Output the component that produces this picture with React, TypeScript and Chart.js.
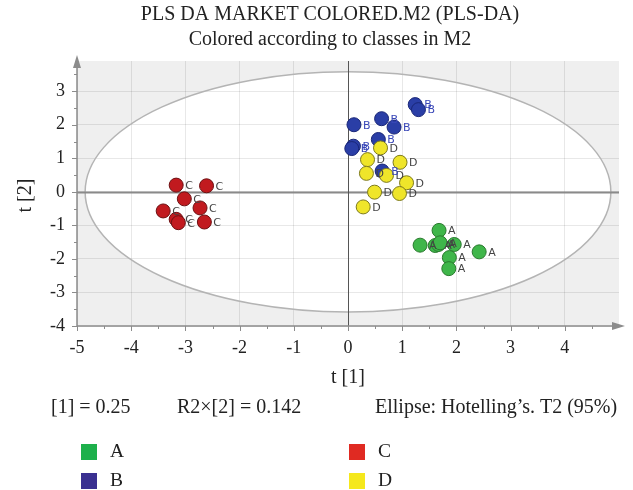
import React, { useEffect, useRef } from "react";
import { Chart, registerables } from "chart.js";

Chart.register(...registerables);

// t[1], t[2] scores per class
const classA_t1 = [1.68, 1.33, 1.61, 1.67, 1.70, 1.96, 2.42, 1.87, 1.86];
const classA_t2 = [-1.15, -1.59, -1.60, -1.57, -1.52, -1.57, -1.79, -1.96, -2.29];
const classB_t1 = [1.24, 1.30, 0.62, 0.11, 0.85, 0.56, 0.10, 0.07, 0.63];
const classB_t2 = [2.60, 2.45, 2.18, 2.00, 1.93, 1.56, 1.36, 1.29, 0.62];
const classC_t1 = [-3.17, -2.61, -3.02, -2.73, -3.41, -3.17, -3.13, -2.65];
const classC_t2 = [0.20, 0.18, -0.21, -0.48, -0.57, -0.82, -0.92, -0.90];
const classD_t1 = [0.60, 0.36, 0.96, 0.34, 0.71, 1.08, 0.49, 0.95, 0.28];
const classD_t2 = [1.31, 0.96, 0.88, 0.55, 0.49, 0.27, -0.01, -0.05, -0.45];

const classNames = ["A", "B", "C", "D"];
const xTicks = [-5, -4, -3, -2, -1, 0, 1, 2, 3, 4];
const yTicks = [-4, -3, -2, -1, 0, 1, 2, 3];
const ellipseA = 4.85;
const ellipseB = 3.58;

const titleLines = ["PLS DA MARKET COLORED.M2 (PLS-DA)", "Colored according to classes in M2"];
const statsTexts = ["[1] = 0.25", "R2\u00d7[2] = 0.142", "Ellipse: Hotelling\u2019s. T2 (95%)"];

const SERIF = "'Liberation Serif', 'DejaVu Serif', serif";

const pts = (xs: number[], ys: number[]) => xs.map((x, i) => ({ x, y: ys[i] }));

export default function App() {
  const ref = useRef<HTMLCanvasElement | null>(null);

  useEffect(() => {
    document.body.style.margin = "0";
    const canvas = ref.current!;

    const bgPlugin = {
      id: "bgPlugin",
      beforeDraw(chart: any) {
        const { ctx, chartArea: ca, scales } = chart;
        const xs = scales.x, ys = scales.y;
        ctx.save();
        ctx.fillStyle = "#efefef";
        ctx.fillRect(ca.left, ca.top, ca.right - ca.left, ca.bottom - ca.top);
        const cx = xs.getPixelForValue(0), cy = ys.getPixelForValue(0);
        const rx = xs.getPixelForValue(ellipseA) - cx;
        const ry = cy - ys.getPixelForValue(ellipseB);
        ctx.beginPath();
        ctx.ellipse(cx, cy, rx, ry, 0, 0, Math.PI * 2);
        ctx.fillStyle = "#ffffff";
        ctx.fill();
        ctx.restore();
      },
      beforeDatasetsDraw(chart: any) {
        const { ctx, chartArea: ca, scales } = chart;
        const xs = scales.x, ys = scales.y;
        ctx.save();
        const cx = xs.getPixelForValue(0), cy = ys.getPixelForValue(0);
        const rx = xs.getPixelForValue(ellipseA) - cx;
        const ry = cy - ys.getPixelForValue(ellipseB);
        ctx.beginPath();
        ctx.ellipse(cx, cy, rx, ry, 0, 0, Math.PI * 2);
        ctx.strokeStyle = "#b4b4b4";
        ctx.lineWidth = 1.5;
        ctx.stroke();
        // zero lines
        ctx.strokeStyle = "#8a8a8a";
        ctx.lineWidth = 2;
        ctx.beginPath();
        ctx.moveTo(ca.left, Math.round(cy) + 0.5);
        ctx.lineTo(ca.right, Math.round(cy) + 0.5);
        ctx.stroke();
        ctx.strokeStyle = "#555555";
        ctx.lineWidth = 1;
        ctx.beginPath();
        ctx.moveTo(Math.round(cx) + 0.5, ca.top);
        ctx.lineTo(Math.round(cx) + 0.5, ca.bottom);
        ctx.stroke();
        // axes
        ctx.strokeStyle = "#8c8c8c";
        ctx.lineWidth = 1.5;
        ctx.beginPath();
        ctx.moveTo(ca.left, ca.bottom);
        ctx.lineTo(ca.left, ca.top + 4);
        ctx.moveTo(ca.left, ca.bottom);
        ctx.lineTo(ca.right - 2, ca.bottom);
        ctx.stroke();
        // ticks
        ctx.lineWidth = 1;
        ctx.beginPath();
        for (let v = -4; v <= 3.5; v += 0.5) {
          const y = Math.round(ys.getPixelForValue(v)) + 0.5;
          const len = Number.isInteger(v) ? 5 : 3;
          ctx.moveTo(ca.left - len, y);
          ctx.lineTo(ca.left, y);
        }
        for (let v = -5; v <= 4.5; v += 0.5) {
          const x = Math.round(xs.getPixelForValue(v)) + 0.5;
          const len = Number.isInteger(v) ? 5 : 3;
          ctx.moveTo(x, ca.bottom);
          ctx.lineTo(x, ca.bottom + len);
        }
        ctx.stroke();
        // arrows
        ctx.fillStyle = "#8c8c8c";
        ctx.beginPath();
        ctx.moveTo(ca.left, ca.top - 6);
        ctx.lineTo(ca.left - 4, ca.top + 7);
        ctx.lineTo(ca.left + 4, ca.top + 7);
        ctx.closePath();
        ctx.fill();
        ctx.beginPath();
        ctx.moveTo(ca.right + 6, ca.bottom);
        ctx.lineTo(ca.right - 7, ca.bottom - 4);
        ctx.lineTo(ca.right - 7, ca.bottom + 4);
        ctx.closePath();
        ctx.fill();
        ctx.restore();
      },
      afterDatasetsDraw(chart: any) {
        const { ctx } = chart;
        ctx.save();
        ctx.font = "11px 'DejaVu Sans', sans-serif";
        ctx.textBaseline = "middle";
        ctx.textAlign = "left";
        chart.data.datasets.forEach((ds: any, di: number) => {
          const meta = chart.getDatasetMeta(di);
          ctx.fillStyle = ds.label === "B" ? "#3a48b8" : "#444444";
          meta.data.forEach((el: any) => {
            ctx.fillText(ds.label, el.x + 9, el.y + 1);
          });
        });
        ctx.restore();
      },
      afterDraw(chart: any) {
        const { ctx, chartArea: ca, scales } = chart;
        const cx = scales.x.getPixelForValue(0);
        ctx.save();
        ctx.fillStyle = "#222222";
        ctx.textBaseline = "middle";
        ctx.textAlign = "center";
        ctx.font = `20px ${SERIF}`;
        ctx.fillText(titleLines[0], 330, 15);
        ctx.fillText(titleLines[1], 330, 40);
        ctx.font = `20px ${SERIF}`;
        ctx.fillText("t [1]", cx, 378);
        ctx.save();
        ctx.translate(26, (ca.top + ca.bottom) / 2 + 2);
        ctx.rotate(-Math.PI / 2);
        ctx.fillText("t [2]", 0, 0);
        ctx.restore();
        ctx.textAlign = "left";
        ctx.font = `20px ${SERIF}`;
        ctx.fillText(statsTexts[0], 51, 408);
        ctx.fillText(statsTexts[1], 177, 408);
        ctx.fillText(statsTexts[2], 375, 408);
        // legend
        const legendColors = ["#1db04b", "#3a3091", "#e02a22", "#f5e81c"];
        const lx = [81, 81, 349, 349];
        const ly = [444, 473, 444, 473];
        ctx.font = `19.5px ${SERIF}`;
        classNames.forEach((n, i) => {
          ctx.fillStyle = legendColors[i];
          ctx.fillRect(lx[i], ly[i], 16, 16);
          ctx.fillStyle = "#222222";
          ctx.fillText(n, lx[i] + 29, ly[i] + 8);
        });
        ctx.restore();
      },
    };

    const chart = new Chart(canvas, {
      type: "scatter",
      data: {
        datasets: [
          {
            label: "D",
            data: pts(classD_t1, classD_t2),
            backgroundColor: "#efe52a",
            borderColor: "#7d7a1c",
          },
          {
            label: "B",
            data: pts(classB_t1, classB_t2),
            backgroundColor: "#2a3ea6",
            borderColor: "#1a2778",
          },
          {
            label: "A",
            data: pts(classA_t1, classA_t2),
            backgroundColor: "#3fb64a",
            borderColor: "#2a7a2e",
          },
          {
            label: "C",
            data: pts(classC_t1, classC_t2),
            backgroundColor: "#c11a1f",
            borderColor: "#6e1012",
          },
        ],
      },
      options: {
        responsive: false,
        animation: false,
        events: [],
        layout: { padding: { top: 61, right: 14, left: 0, bottom: 0 } },
        elements: { point: { radius: 7, borderWidth: 1 } },
        plugins: { legend: { display: false }, title: { display: false }, tooltip: { enabled: false } },
        scales: {
          x: {
            type: "linear",
            min: -5,
            max: 5,
            afterBuildTicks: (s: any) => {
              s.ticks = xTicks.map((v) => ({ value: v }));
            },
            afterFit: (s: any) => {
              s.height = 164;
            },
            grid: { color: "rgba(0,0,0,0.09)", drawTicks: false },
            border: { display: false },
            ticks: {
              padding: 11,
              color: "#222",
              font: { family: SERIF, size: 18 },
              callback: (v: any) => String(v),
            },
          },
          y: {
            type: "linear",
            min: -4,
            max: 3.9,
            afterBuildTicks: (s: any) => {
              s.ticks = yTicks.map((v) => ({ value: v }));
            },
            afterFit: (s: any) => {
              s.width = 77;
            },
            grid: { color: "rgba(0,0,0,0.09)", drawTicks: false },
            border: { display: false },
            ticks: {
              padding: 12,
              color: "#222",
              font: { family: SERIF, size: 18 },
              callback: (v: any) => String(v),
            },
          },
        },
      },
      plugins: [bgPlugin],
    });
    return () => chart.destroy();
  }, []);

  return (
    <canvas
      ref={ref}
      width={633}
      height={490}
      style={{ display: "block", width: 633, height: 490 }}
    />
  );
}
